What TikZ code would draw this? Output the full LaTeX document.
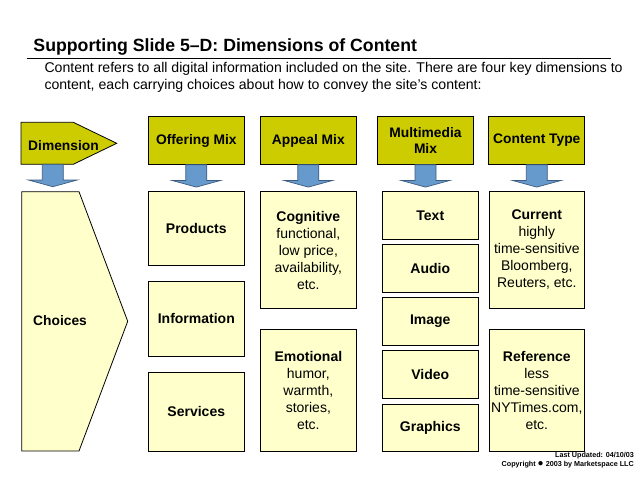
\documentclass[tikz,border=0pt]{standalone}
\usepackage{fontspec}
\setmainfont{Liberation Sans}
\usepackage{tikz}
\usetikzlibrary{calc,positioning}
\definecolor{olivebox}{RGB}{204,204,0}
\definecolor{paleyel}{RGB}{255,255,204}
\definecolor{arrblue}{RGB}{102,153,204}
\definecolor{arredge}{RGB}{62,92,128}

\begin{document}
\begin{tikzpicture}[x=1pt,y=-1pt,
  hdr/.style={draw=black,line width=0.8pt,fill=olivebox,inner sep=0pt,align=center,
    minimum width=96pt,minimum height=47.6pt,font=\fontsize{13.8}{16.5}\selectfont\bfseries},
  cell/.style={draw=black,line width=0.8pt,fill=paleyel,inner sep=0pt,align=center,
    minimum width=96pt,font=\fontsize{14}{17}\selectfont},
  blockarr/.style={draw=arredge,line width=0.7pt,fill=arrblue,line join=miter}]
\useasboundingbox (0,0) rectangle (638,479);
% title and text
\node (title) [anchor=base west,inner sep=0pt,font=\fontsize{17.7}{20}\selectfont\bfseries] at (33.3,51) {Supporting Slide 5–D: Dimensions of Content};
\draw[line width=1pt] (26.7,58.3) -- (611.3,58.3);
\node (intro) [anchor=base west,inner sep=0pt,align=left,font=\fontsize{14.1}{17}\selectfont] at (44.3,89)
  {Content refers to all digital information included on the site. There are four key dimensions to\\content, each carrying choices about how to convey the site’s content:};
% left pentagons
\draw[line width=0.8pt,fill=olivebox] (21,122.3) -- (73.3,122.3) -- (116.7,143.3) -- (73.3,164.3) -- (21,164.3) -- cycle;
\node (dim) [anchor=west,inner sep=0pt,font=\fontsize{13.8}{16.5}\selectfont\bfseries] at (28,145.5) {Dimension};
\coordinate (dimfoot) at (52.8,164.3);
\draw[line width=0.8pt,fill=paleyel] (21.7,191.7) -- (79,191.7) -- (127.7,321.3) -- (79,451) -- (21.7,451) -- cycle;
\node (choices) [anchor=west,inner sep=0pt,font=\fontsize{13.8}{16.5}\selectfont\bfseries] at (33,321) {Choices};
% headers
\node (offer) [hdr] at (196.3,140.5) {Offering Mix};
\node (appeal) [hdr] at (308.3,140.5) {Appeal Mix};
\node (mmix) [hdr] at (425.5,140.5) {Multimedia\\Mix};
\node (ctype) [hdr] at (536.8,140.5) {Content Type};
% block arrows
\foreach \n in {dimfoot,offer,appeal,mmix,ctype}
  \draw[blockarr] ($(\n.south)+(-10.5,0)$) -- ++(0,15.7) -- ++(-14,0) -- ($(\n.south)+(0,22.4)$)
    -- ($(\n.south)+(24.5,15.7)$) -- ++(-14,0) -- ($(\n.south)+(10.5,0)$) -- cycle;
% offering mix
\node (prod) [cell,minimum height=73.3pt] at (196.3,228.35) {\textbf{Products}};
\node (info) [cell,minimum height=74.3pt] at (196.3,318.85) {\textbf{Information}};
\node (serv) [cell,minimum height=78.3pt] at (196.3,411.85) {\textbf{Services}};
% appeal mix
\node (cogn) [cell,minimum height=116.6pt] at (308.35,250) {\textbf{Cognitive}\\functional,\\low price,\\availability,\\etc.};
\node (emot) [cell,minimum height=121.7pt] at (308.35,390.15) {\textbf{Emotional}\\humor,\\warmth,\\stories,\\etc.};
% multimedia mix
\node (text) [cell,minimum height=47.6pt] at (430.3,215.5) {\textbf{Text}};
\node (audio) [cell,minimum height=48pt] at (430.3,268.3) {\textbf{Audio}};
\node (image) [cell,minimum height=47.7pt] at (430.3,321.15) {\textbf{Image}};
\node (video) [cell,minimum height=47.6pt] at (430.3,374.5) {\textbf{Video}};
\node (graph) [cell,minimum height=47pt] at (430.3,427.5) {\textbf{Graphics}};
% content type
\node (curr) [cell,minimum width=95pt,minimum height=116.6pt] at (536.8,250) {\textbf{Current}\\highly\\time-sensitive\\Bloomberg,\\Reuters, etc.};
\node (refr) [cell,minimum width=95pt,minimum height=121.7pt] at (536.8,390.15) {\textbf{Reference}\\less\\time-sensitive\\NYTimes.com,\\etc.};
% footer
\node (upd) [anchor=base east,inner sep=0pt,font=\fontsize{7.2}{8}\selectfont\bfseries] at (634,457) {Last Updated: 04/10/03};
\node (copy) [anchor=base east,inner sep=0pt,font=\fontsize{7.2}{8}\selectfont\bfseries] at (634,466) {Copyright {\fontsize{10}{8}\selectfont ●} 2003 by Marketspace LLC};
\end{tikzpicture}
\end{document}
